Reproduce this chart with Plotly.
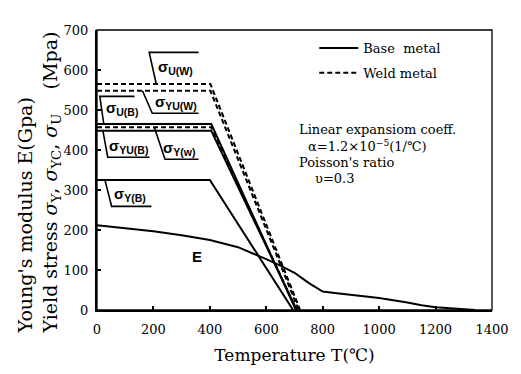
import plotly.graph_objects as go

# ---------------- data ----------------
temp_E = [0, 100, 200, 300, 400, 500, 550, 600, 650, 700, 750, 800, 850, 900, 1000, 1100, 1150, 1200, 1300, 1340]
E_gpa = [212, 205, 197, 187, 175, 157, 143, 127, 111, 93, 68, 46, 42, 38, 30, 19, 12, 7, 1, 0]

temp_sigY_B = [0, 400, 695]
sigY_B = [325, 325, 0]
temp_sigU_B = [0, 405, 705]
sigU_B = [465, 465, 0]
temp_sigYU_B = [0, 405, 708]
sigYU_B = [448, 448, 0]
temp_sigY_W = [0, 405, 708]
sigY_W = [457, 457, 0]
temp_sigYU_W = [0, 402, 715]
sigYU_W = [548, 548, 0]
temp_sigU_W = [0, 402, 720]
sigU_W = [565, 565, 0]

x_ticks = [0, 200, 400, 600, 800, 1000, 1200, 1400]
y_ticks = [0, 100, 200, 300, 400, 500, 600, 700]

SERIF = "DejaVu Serif"
SANS = "Liberation Sans"

fig = go.Figure()

# Young's modulus
fig.add_trace(go.Scatter(x=temp_E, y=E_gpa, mode="lines", line=dict(color="black", width=2),
                         showlegend=False, hoverinfo="skip"))

base_series = [(temp_sigY_B, sigY_B), (temp_sigU_B, sigU_B), (temp_sigYU_B, sigYU_B)]
weld_series = [(temp_sigY_W, sigY_W), (temp_sigYU_W, sigYU_W), (temp_sigU_W, sigU_W)]

for i, (tx, ty) in enumerate(base_series):
    fig.add_trace(go.Scatter(x=tx, y=ty, mode="lines", line=dict(color="black", width=2),
                             name="Base  metal", legendgroup="base", showlegend=(i == 0)))
for i, (tx, ty) in enumerate(weld_series):
    fig.add_trace(go.Scatter(x=tx, y=ty, mode="lines", line=dict(color="black", width=2, dash="5px,3px"),
                             name="Weld metal", legendgroup="weld", showlegend=(i == 0)))

# curve labels with bracket leaders: (text, curve temp, curve value, corner dx, corner dy, end x, text x, text y)
label_specs = [
    ("U(W)", 210, sigU_W[0], -25, 79, 360, 277, 607),
    ("YU(W)", 161, sigYU_W[0], 35, -56, 360, 280, 519),
    ("U(B)", 24, sigU_B[0], -14, 69, 133, 89, 505),
    ("YU(B)", 21, sigYU_B[0], 17, -66, 186, 110, 409),
    ("Y(w)", 203, sigY_W[0], 38, -80, 360, 292, 404),
    ("Y(B)", 28, sigY_B[0], 24, -66, 193, 117, 289),
]
for txt, cx, cy, dxc, dyc, ex, tx, ty in label_specs:
    kx, ky = cx + dxc, cy + dyc
    fig.add_shape(type="path", xref="x", yref="y",
                  path=f"M{cx},{cy} L{kx},{ky} L{ex},{ky}",
                  line=dict(color="black", width=1.6))
    fig.add_annotation(x=tx, y=ty, xref="x", yref="y", showarrow=False,
                       text=f"<b>σ</b><sub><b>{txt}</b></sub>",
                       font=dict(family=SANS, size=15, color="black"))

fig.add_annotation(x=353, y=135, xref="x", yref="y", showarrow=False, text="<b>E</b>",
                   font=dict(family=SANS, size=15, color="black"))

# frame
fig.add_shape(type="rect", xref="paper", yref="paper", x0=0, y0=0, x1=1, y1=1,
              line=dict(color="black", width=1.3), layer="above")

# info text
def px2paper(px, py):
    return (px - 97) / 400, (316 - py) / 286

info = [
    ("Linear expansiom coeff.", 300, 132),
    ("α=1.2×10<sup>−5</sup>(1/℃)", 309, 148),
    ("Poisson's ratio", 300, 165),
    ("υ=0.3", 316, 182),
]
for t, px, py in info:
    xp, yp = px2paper(px, py)
    fig.add_annotation(x=xp, y=yp, xref="paper", yref="paper", xanchor="left", yanchor="middle",
                       showarrow=False, text=t, font=dict(family=SERIF, size=13, color="black"))

# y-axis title (two lines)
tx_p, ty_p = px2paper(38, 186)
fig.add_annotation(x=tx_p, y=ty_p, xref="paper", yref="paper", xanchor="center", yanchor="middle",
                   showarrow=False, textangle=-90, align="left",
                   text="Young's modulus E(Gpa)<br>Yield stress <i>σ</i><sub>Y</sub>, <i>σ</i><sub>YC</sub>, <i>σ</i><sub>U</sub>    (Mpa)",
                   font=dict(family=SERIF, size=19, color="black"))

lx, ly = px2paper(317, 33)
fig.update_layout(
    width=521, height=374,
    margin=dict(l=97, r=24, t=30, b=58),
    paper_bgcolor="white", plot_bgcolor="white",
    legend=dict(x=lx, y=ly, xanchor="left", yanchor="top", bgcolor="rgba(0,0,0,0)",
                font=dict(family=SERIF, size=13, color="black"), itemwidth=39, tracegroupgap=5),
    xaxis=dict(range=[0, 1400], tickvals=x_ticks, ticks="inside", ticklen=4, tickwidth=1.5,
               tickcolor="black", showline=True, linecolor="black", linewidth=2, showgrid=False,
               zeroline=False, tickfont=dict(family=SERIF, size=13, color="black"),
               ticklabelstandoff=6,
               title=dict(text="Temperature T(℃)", font=dict(family=SERIF, size=17, color="black"),
                          standoff=14)),
    yaxis=dict(range=[0, 700], tickvals=y_ticks, ticks="inside", ticklen=4, tickwidth=1.5,
               tickcolor="black", showline=True, linecolor="black", linewidth=2, showgrid=False,
               zeroline=False, tickfont=dict(family=SERIF, size=13, color="black"),
               ticklabelstandoff=4),
)

fig.write_html("out.html")
